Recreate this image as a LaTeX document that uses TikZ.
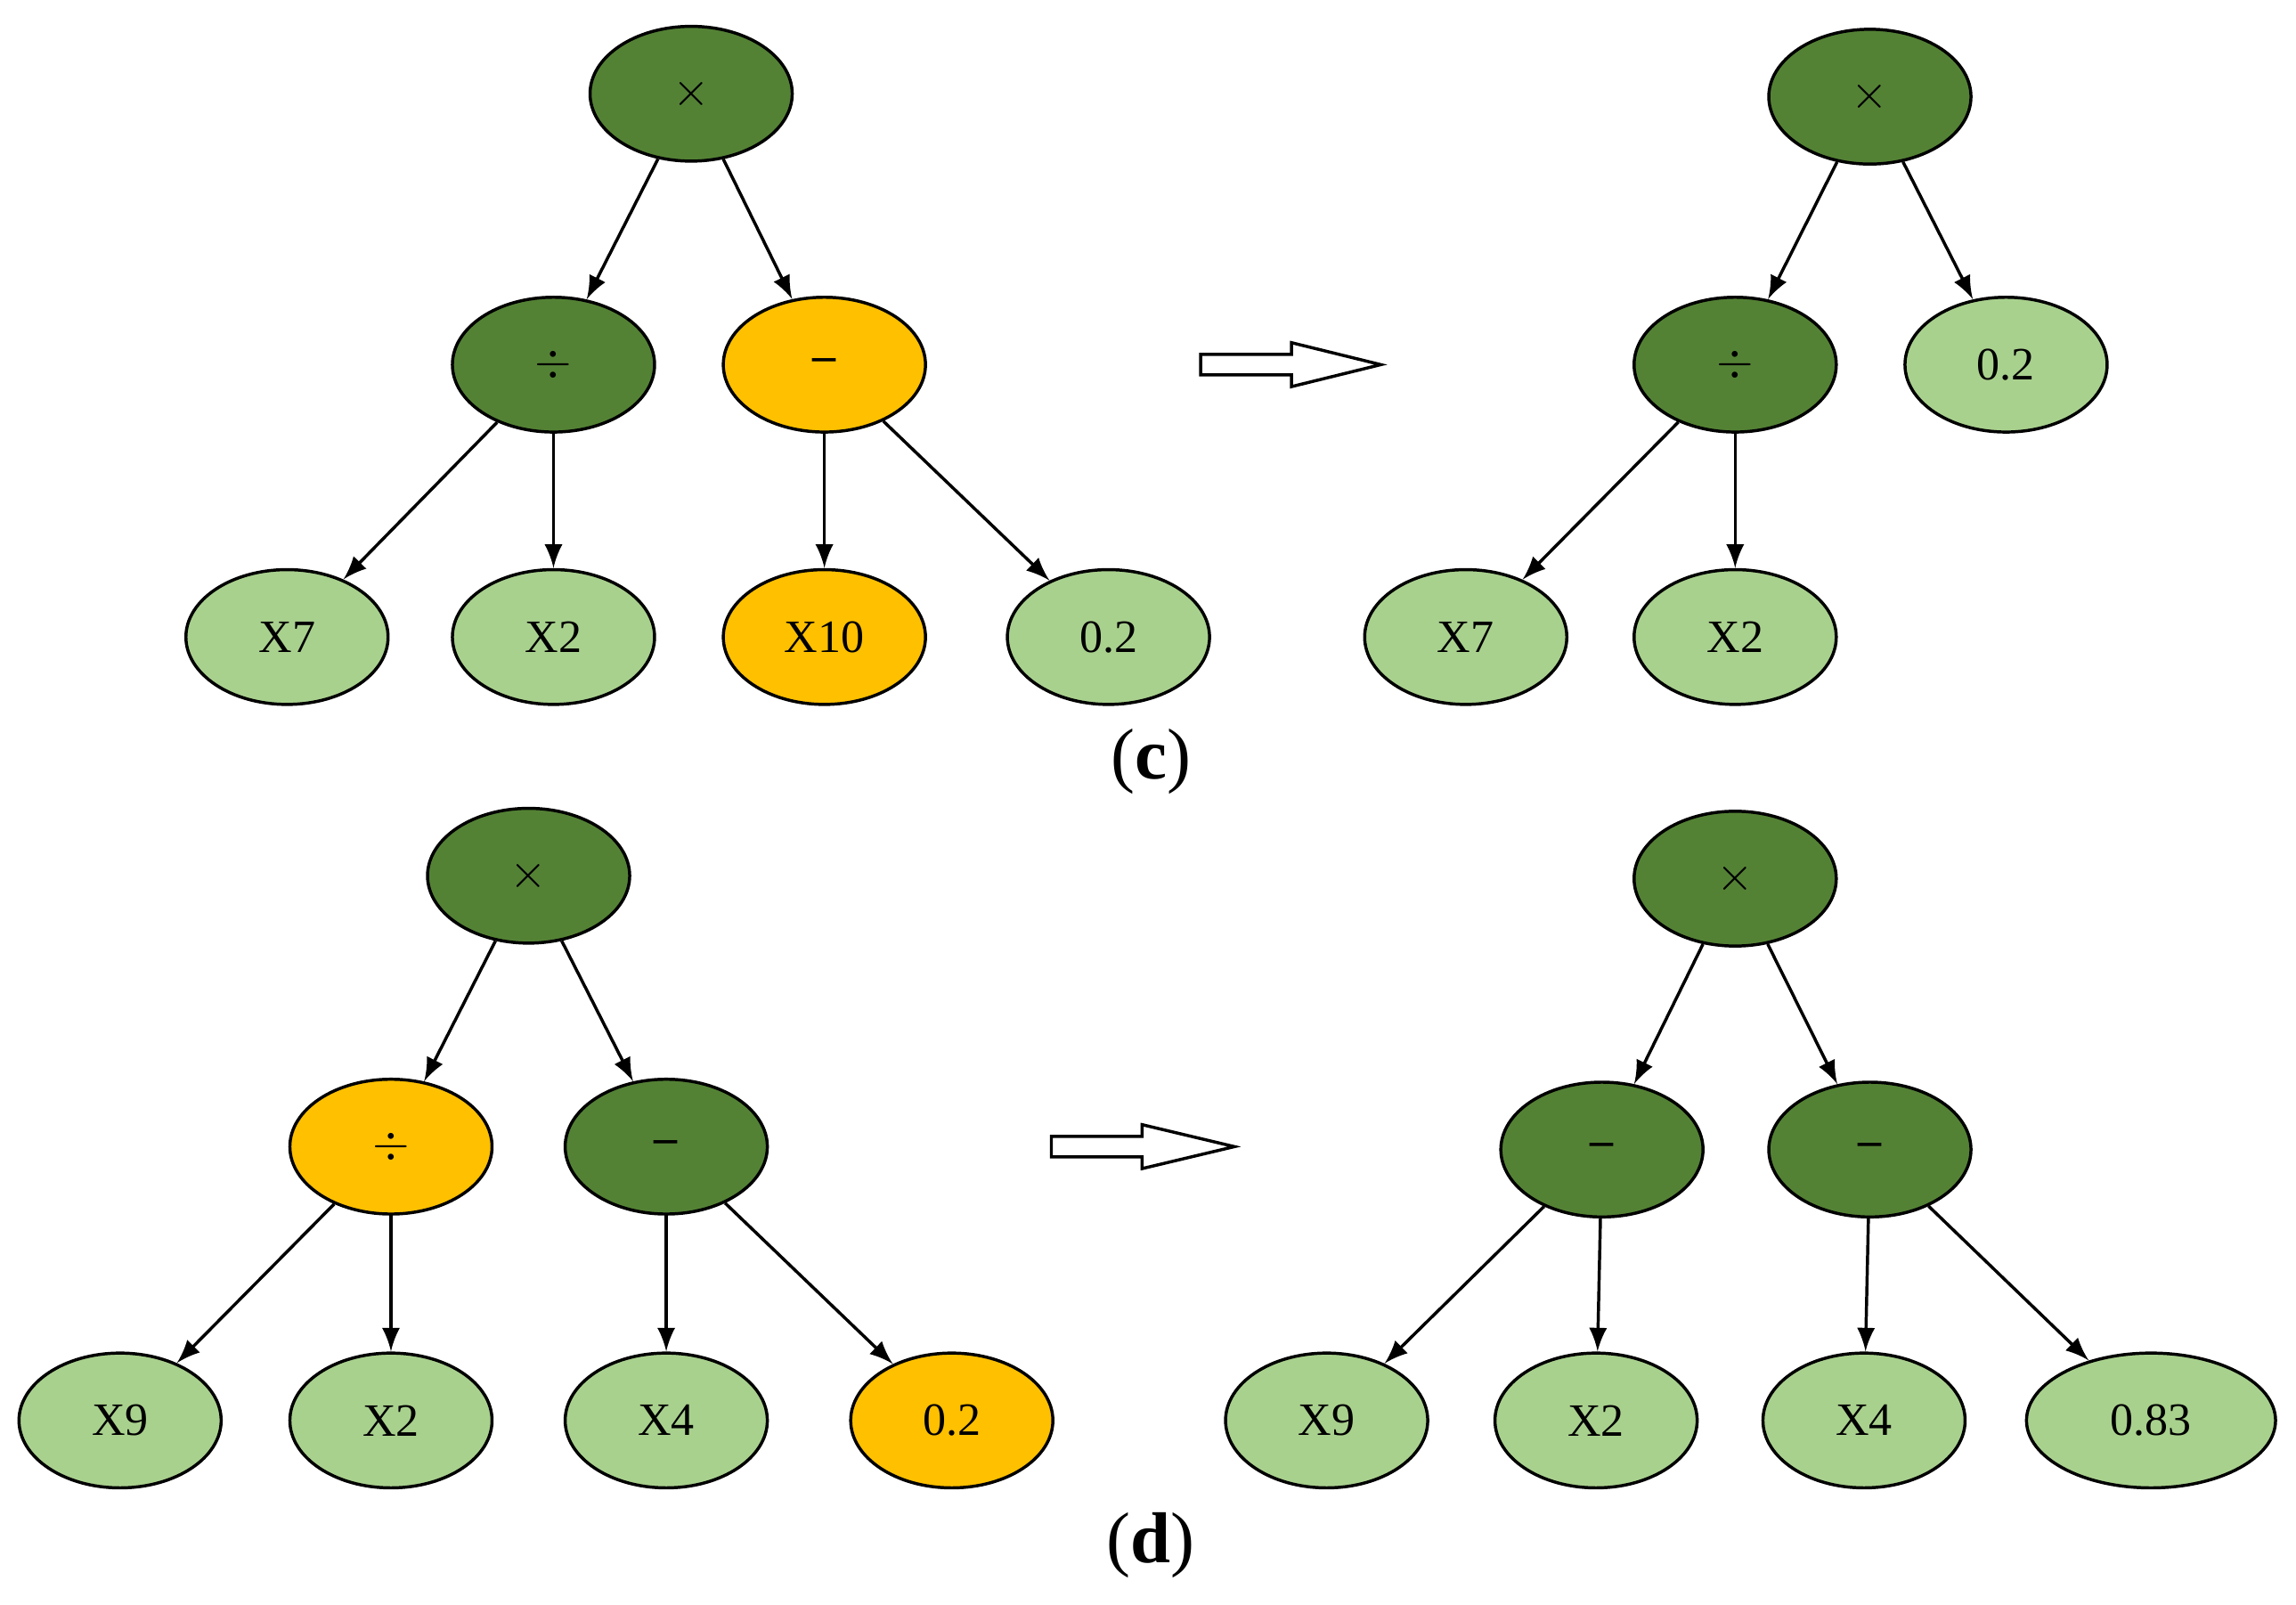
\documentclass[tikz,border=0pt]{standalone}
\usepackage{fontspec}
\setmainfont{Liberation Serif}
\usetikzlibrary{arrows, shapes.geometric}
\definecolor{darkgr}{HTML}{548235}
\definecolor{lightgr}{HTML}{A9D18E}
\definecolor{amber}{HTML}{FFC000}
\begin{document}
\begin{tikzpicture}[
    x=0.01cm, y=-0.01cm,
    every node/.style={font=\fontsize{9}{10}\selectfont},
    op/.style={ellipse, draw=black, semithick, fill=darkgr, minimum width=1.38cm, minimum height=0.92cm, inner sep=0pt},
    leaf/.style={ellipse, draw=black, semithick, fill=lightgr, minimum width=1.38cm, minimum height=0.92cm, inner sep=0pt},
    hot/.style={fill=amber},
    arrow/.style={semithick,-latex},
    blockarrow/.style={draw=black, semithick, fill=white}
]
\useasboundingbox (0,0) rectangle (1568,1096);

% Panel (c), left tree
\node (c_mul) [op] at (472,64) {$\times$};
\node (c_div) [op] at (378,249) {$\div$};
\node (c_sub) [op, hot] at (563,249) {\textbf{--}};
\node (c_x7) [leaf] at (196,435) {X7};
\node (c_x2) [leaf] at (378,435) {X2};
\node (c_x10) [leaf, hot] at (563,435) {X10};
\node (c_k) [leaf] at (757,435) {0.2};

% Panel (c), right tree
\node (cr_mul) [op] at (1277,66) {$\times$};
\node (cr_div) [op] at (1185,249) {$\div$};
\node (cr_k) [leaf] at (1370,249) {0.2};
\node (cr_x7) [leaf] at (1001,435) {X7};
\node (cr_x2) [leaf] at (1185,435) {X2};

% Panel (d), left tree
\node (d_mul) [op] at (361,598) {$\times$};
\node (d_div) [op, hot] at (267,783) {$\div$};
\node (d_sub) [op] at (455,783) {\textbf{--}};
\node (d_x9) [leaf] at (82,970) {X9};
\node (d_x2) [leaf] at (267,970) {X2};
\node (d_x4) [leaf] at (455,970) {X4};
\node (d_k) [leaf, hot] at (650,970) {0.2};

% Panel (d), right tree
\node (dr_mul) [op] at (1185,600) {$\times$};
\node (dr_subl) [op] at (1094,785) {\textbf{--}};
\node (dr_subr) [op] at (1277,785) {\textbf{--}};
\node (dr_x9) [leaf] at (906,970) {X9};
\node (dr_x2) [leaf] at (1090,970) {X2};
\node (dr_x4) [leaf] at (1273,970) {X4};
\node (dr_k) [leaf, minimum width=1.7cm] at (1469,970) {0.83};

% Captions
\node (cap_c) at (786,520) {\fontsize{14}{16}\selectfont(\textbf{c})};
\node (cap_d) at (786,1055) {\fontsize{14}{16}\selectfont(\textbf{d})};

% Edges
\foreach \a/\b in {c_mul/c_div, c_mul/c_sub, c_div/c_x7, c_div/c_x2, c_sub/c_x10, c_sub/c_k,
                   cr_mul/cr_div, cr_mul/cr_k, cr_div/cr_x7, cr_div/cr_x2,
                   d_mul/d_div, d_mul/d_sub, d_div/d_x9, d_div/d_x2, d_sub/d_x4, d_sub/d_k,
                   dr_mul/dr_subl, dr_mul/dr_subr, dr_subl/dr_x9, dr_subl/dr_x2, dr_subr/dr_x4, dr_subr/dr_k}
    \draw [arrow] (\a) -- (\b);

% Transformation arrows
\draw [blockarrow] (820,242) -- (882,242) -- (882,234) -- (943,249) -- (882,264) -- (882,256) -- (820,256) -- cycle;
\draw [blockarrow] (718,776) -- (780,776) -- (780,768) -- (843,783) -- (780,798) -- (780,790) -- (718,790) -- cycle;

\end{tikzpicture}
\end{document}
